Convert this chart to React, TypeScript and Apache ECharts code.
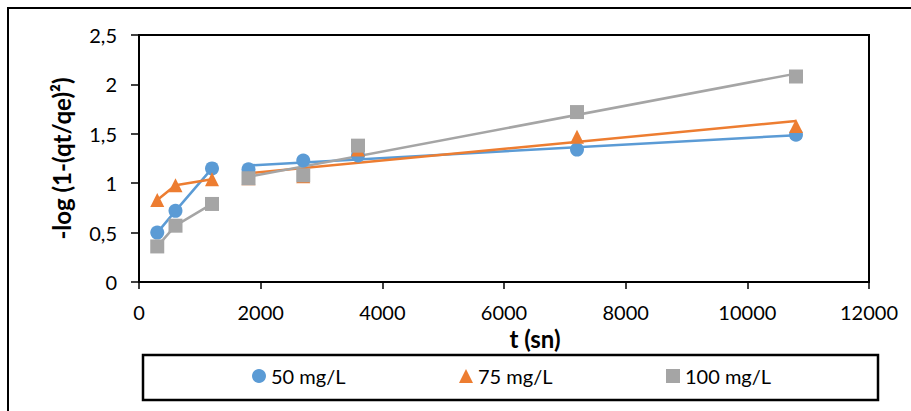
import React, { useEffect, useRef } from "react";
import * as echarts from "echarts";

// Contact time (s) shared by every series
const TIME_S = [300, 600, 1200, 1800, 2700, 3600, 7200, 10800];

// -log(1-(qt/qe)^2) for each initial concentration
const Y_50 = [0.5, 0.72, 1.15, 1.14, 1.23, 1.28, 1.34, 1.49];
const Y_75 = [0.83, 0.98, 1.04, 1.05, 1.07, 1.34, 1.47, 1.58];
const Y_100 = [0.36, 0.57, 0.79, 1.05, 1.08, 1.38, 1.72, 2.08];

const SERIES_NAMES = ["50 mg/L", "75 mg/L", "100 mg/L"];
const SERIES_COLORS = ["#5B9BD5", "#ED7D31", "#A5A5A5"];
const SERIES_SYMBOLS = ["circle", "triangle", "rect"];

// The first three points are joined directly; the rest get a linear trend line
const EARLY_COUNT = 3;

const Y_TICKS = [0, 0.5, 1, 1.5, 2, 2.5];
const X_TICKS = [0, 2000, 4000, 6000, 8000, 10000, 12000];

const FONT = "Lato, 'Open Sans', sans-serif";

function pairs(xs: number[], ys: number[]): number[][] {
  return xs.map((x, i) => [x, ys[i]]);
}

// Least-squares straight line over the given points, spanning their x range
function trendLine(xs: number[], ys: number[]): number[][] {
  const n = xs.length;
  const mx = xs.reduce((a, b) => a + b, 0) / n;
  const my = ys.reduce((a, b) => a + b, 0) / n;
  let sxy = 0;
  let sxx = 0;
  for (let i = 0; i < n; i++) {
    sxy += (xs[i] - mx) * (ys[i] - my);
    sxx += (xs[i] - mx) * (xs[i] - mx);
  }
  const slope = sxy / sxx;
  const icpt = my - slope * mx;
  const x0 = Math.min(...xs);
  const x1 = Math.max(...xs);
  return [
    [x0, icpt + slope * x0],
    [x1, icpt + slope * x1],
  ];
}

export default function App() {
  const ref = useRef<HTMLDivElement>(null);

  useEffect(() => {
    if (!ref.current) return;
    const chart = echarts.init(ref.current, null, { renderer: "svg" });
    const allY = [Y_50, Y_75, Y_100];

    const series: any[] = [];
    allY.forEach((ys, i) => {
      const color = SERIES_COLORS[i];
      series.push({
        type: "line",
        data: pairs(TIME_S.slice(0, EARLY_COUNT), ys.slice(0, EARLY_COUNT)),
        showSymbol: false,
        symbol: "none",
        lineStyle: { color, width: 2.5 },
        z: 2,
        silent: true,
      });
      series.push({
        type: "line",
        data: trendLine(TIME_S.slice(EARLY_COUNT), ys.slice(EARLY_COUNT)),
        showSymbol: false,
        symbol: "none",
        lineStyle: { color, width: 2.5 },
        z: 2,
        silent: true,
      });
    });
    allY.forEach((ys, i) => {
      series.push({
        name: SERIES_NAMES[i],
        type: "scatter",
        data: pairs(TIME_S, ys),
        symbol: SERIES_SYMBOLS[i],
        symbolSize: 14,
        itemStyle: { color: SERIES_COLORS[i], opacity: 1 },
        z: 3 + i,
      });
    });

    const legendLefts = [252, 459, 666];

    chart.setOption({
      animation: false,
      backgroundColor: "#fff",
      textStyle: { fontFamily: FONT },
      grid: {
        left: 139,
        top: 35,
        right: 42,
        bottom: 129,
        show: true,
        borderColor: "#000",
        borderWidth: 2,
        containLabel: false,
      },
      xAxis: {
        type: "value",
        min: X_TICKS[0],
        max: X_TICKS[X_TICKS.length - 1],
        interval: X_TICKS[1] - X_TICKS[0],
        name: "t (sn)",
        nameLocation: "middle",
        nameGap: 40,
        nameTextStyle: {
          fontFamily: FONT,
          fontSize: 24,
          fontWeight: "bold",
          color: "#000",
          padding: [0, 0, 0, 62],
        },
        axisLine: { show: true, lineStyle: { color: "#000", width: 2 } },
        axisTick: { show: true, inside: false, length: 7, lineStyle: { color: "#000", width: 1.5 } },
        axisLabel: {
          fontFamily: FONT,
          fontSize: 20,
          color: "#000",
          margin: 20,
          formatter: (v: number) => String(v),
        },
        splitLine: { show: false },
      },
      yAxis: {
        type: "value",
        min: Y_TICKS[0],
        max: Y_TICKS[Y_TICKS.length - 1],
        interval: Y_TICKS[1] - Y_TICKS[0],
        name: "-log (1-(qt/qe)²)",
        nameLocation: "middle",
        nameGap: 66,
        nameTextStyle: {
          fontFamily: FONT,
          fontSize: 24,
          fontWeight: "bold",
          color: "#000",
        },
        axisLine: { show: true, lineStyle: { color: "#000", width: 2 } },
        axisTick: { show: true, inside: false, length: 8, lineStyle: { color: "#000", width: 1.5 } },
        axisLabel: {
          fontFamily: FONT,
          fontSize: 20,
          color: "#000",
          margin: 22,
          formatter: (v: number) => String(v).replace(".", ","),
        },
        splitLine: { show: false },
      },
      legend: SERIES_NAMES.map((name, i) => ({
        data: [{ name, icon: SERIES_SYMBOLS[i] }],
        left: legendLefts[i],
        top: 366,
        padding: 0,
        itemWidth: 14,
        itemHeight: 14,
        itemGap: 5,
        selectedMode: false,
        textStyle: { fontFamily: FONT, fontSize: 20, color: "#000" },
      })),
      graphic: [
        {
          type: "rect",
          shape: { x: 8, y: 8, width: 1000, height: 1000 },
          style: { fill: "none", stroke: "#000", lineWidth: 2 },
          silent: true,
          z: 0,
        },
        {
          type: "rect",
          shape: { x: 143, y: 355, width: 735, height: 45 },
          style: { fill: "none", stroke: "#000", lineWidth: 2.5 },
          silent: true,
          z: 0,
        },
      ],
      series,
    });

    return () => chart.dispose();
  }, []);

  return (
    <div
      ref={ref}
      style={{ position: "absolute", left: 0, top: 0, width: 911, height: 411 }}
    />
  );
}
